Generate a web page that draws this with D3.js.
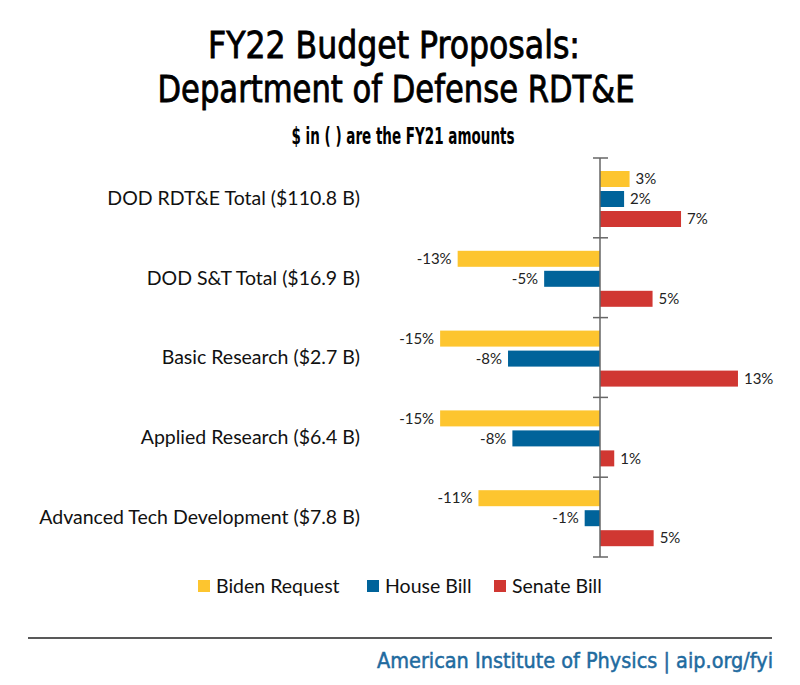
<!DOCTYPE html>
<html>
<head>
<meta charset="utf-8">
<script src="https://cdn.jsdelivr.net/npm/d3@7"></script>
<style>
  html, body { margin: 0; padding: 0; background: #fff; }
  svg { display: block; }
</style>
</head>
<body>
<svg id="chart" width="800" height="685"></svg>
<script>
// ---- data ----
const categories = [
  "DOD RDT&E Total ($110.8 B)",
  "DOD S&T Total ($16.9 B)",
  "Basic Research ($2.7 B)",
  "Applied Research ($6.4 B)",
  "Advanced Tech Development ($7.8 B)"
];
const seriesNames = ["Biden Request", "House Bill", "Senate Bill"];
const seriesColors = ["#FDC52F", "#00639A", "#D03732"];
// percent change vs FY21
const bidenRequest = [2.7, -13.0, -14.6, -14.6, -11.1];
const houseBill    = [2.2, -5.1, -8.4, -8.0, -1.4];
const senateBill   = [7.4, 4.8, 12.6, 1.3, 4.9];
const seriesValues = [bidenRequest, houseBill, senateBill];

const titleLines = ["FY22 Budget Proposals:", "Department of Defense RDT&E"];
const subtitle = "$ in ( ) are the FY21 amounts";
const footer = "American Institute of Physics | aip.org/fyi";

// ---- layout ----
const svg = d3.select("#chart");
const condensed = "'Liberation Sans Narrow', 'DejaVu Sans Condensed', 'DejaVu Sans', sans-serif";
const body = "Lato, 'Open Sans', 'Liberation Sans', sans-serif";

const x = d3.scaleLinear().domain([-20, 15]).range([600 - 20 * 10.95, 600 + 15 * 10.95]);
const y = d3.scaleBand().domain(categories).range([158, 557]);
const inner = d3.scaleBand().domain(seriesNames).range([13, 69]).paddingInner(0.2);

function narrowText(sel, len) {
  sel.style("font-family", condensed).style("font-stretch", "condensed")
    .attr("textLength", len).attr("lengthAdjust", "spacingAndGlyphs");
}

// title
svg.append("text").attr("x", 394).attr("y", 58).attr("text-anchor", "middle")
  .style("font-size", "37px").style("fill", "#000")
  .style("stroke", "#000").style("stroke-width", 0.8)
  .call(narrowText, 372)
  .text(titleLines[0]);
svg.append("text").attr("x", 396).attr("y", 102).attr("text-anchor", "middle")
  .style("font-size", "37px").style("fill", "#000")
  .style("stroke", "#000").style("stroke-width", 0.8)
  .call(narrowText, 477)
  .text(titleLines[1]);
svg.append("text").attr("x", 403).attr("y", 144).attr("text-anchor", "middle")
  .style("font-size", "23px").style("font-weight", "bold").style("fill", "#000")
  .call(narrowText, 223)
  .text(subtitle);

// bars
const flat = [];
categories.forEach((c, i) => {
  seriesNames.forEach((s, j) => {
    flat.push({ cat: c, series: s, value: seriesValues[j][i], color: seriesColors[j] });
  });
});

const g = svg.append("g");
g.selectAll("rect.bar").data(flat).enter().append("rect")
  .attr("class", "bar")
  .attr("x", d => x(Math.min(0, d.value)))
  .attr("width", d => Math.abs(x(d.value) - x(0)))
  .attr("y", d => y(d.cat) + inner(d.series))
  .attr("height", inner.bandwidth())
  .attr("fill", d => d.color);

// value labels
g.selectAll("text.val").data(flat).enter().append("text")
  .attr("class", "val")
  .attr("x", d => d.value >= 0 ? x(d.value) + 6 : x(d.value) - 6)
  .attr("y", d => y(d.cat) + inner(d.series) + inner.bandwidth() / 2)
  .attr("dy", "0.35em")
  .attr("text-anchor", d => d.value >= 0 ? "start" : "end")
  .style("font-family", body).style("font-size", "15px").style("fill", "#222")
  .text(d => Math.round(d.value) + "%");

// axis line + ticks at category boundaries
const axisColor = "#666";
g.append("line").attr("x1", x(0)).attr("x2", x(0))
  .attr("y1", y.range()[0]).attr("y2", y.range()[1])
  .attr("stroke", axisColor).attr("stroke-width", 1.5);
const boundaries = categories.map(c => y(c)).concat([y.range()[1]]);
g.selectAll("line.tick").data(boundaries).enter().append("line")
  .attr("class", "tick")
  .attr("x1", x(0) - 7).attr("x2", x(0) + 8)
  .attr("y1", d => d).attr("y2", d => d)
  .attr("stroke", axisColor).attr("stroke-width", 1.5);

// category labels
g.selectAll("text.cat").data(categories).enter().append("text")
  .attr("class", "cat")
  .attr("x", 360)
  .attr("y", d => y(d) + y.bandwidth() / 2)
  .attr("dy", "0.35em")
  .attr("text-anchor", "end")
  .style("font-family", body).style("font-size", "19.5px").style("fill", "#111")
  .text(d => d);

// legend
const legendX = [198, 367, 494];
const leg = svg.append("g");
seriesNames.forEach((s, j) => {
  leg.append("rect").attr("x", legendX[j]).attr("y", 580).attr("width", 12).attr("height", 12)
    .attr("fill", seriesColors[j]);
  leg.append("text").attr("x", legendX[j] + 18).attr("y", 586).attr("dy", "0.35em")
    .style("font-family", body).style("font-size", "19.5px").style("fill", "#111")
    .text(s);
});

// footer
svg.append("line").attr("x1", 28).attr("x2", 772).attr("y1", 638).attr("y2", 638)
  .attr("stroke", "#222").attr("stroke-width", 1.5);
svg.append("text").attr("x", 773).attr("y", 668).attr("text-anchor", "end")
  .style("font-size", "22px").style("fill", "#1F6B9F")
  .style("stroke", "#1F6B9F").style("stroke-width", 0.5)
  .call(narrowText, 396)
  .text(footer);
</script>
</body>
</html>
